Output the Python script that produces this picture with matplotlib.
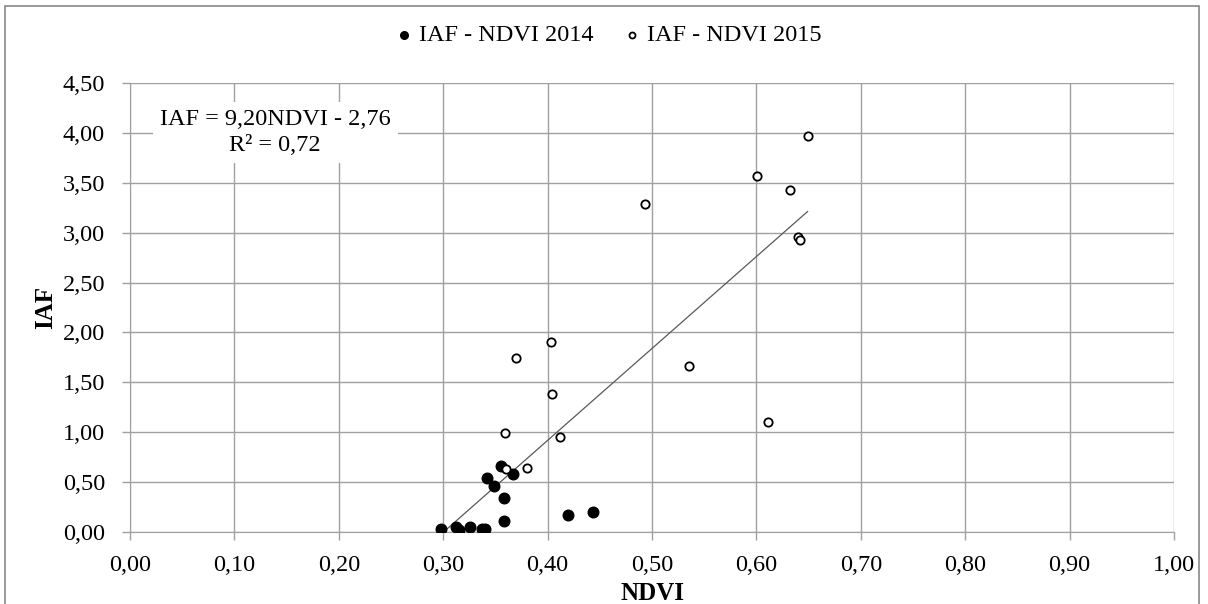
import matplotlib.pyplot as plt
import numpy as np
from matplotlib.patches import Rectangle
from matplotlib.ticker import FuncFormatter

# IAF - NDVI 2014 (filled)
ndvi_2014 = [0.298, 0.312, 0.315, 0.326, 0.337, 0.340, 0.342, 0.349, 0.355, 0.358, 0.358, 0.367, 0.420, 0.443]
iaf_2014 = [0.03, 0.05, 0.02, 0.05, 0.03, 0.03, 0.54, 0.46, 0.66, 0.34, 0.11, 0.58, 0.17, 0.20]

# IAF - NDVI 2015 (open)
ndvi_2015 = [0.359, 0.360, 0.370, 0.380, 0.403, 0.404, 0.412, 0.493, 0.535, 0.601, 0.611, 0.632, 0.640, 0.642, 0.649]
iaf_2015 = [0.99, 0.63, 1.74, 0.64, 1.90, 1.38, 0.95, 3.29, 1.66, 3.57, 1.10, 3.43, 2.96, 2.93, 3.97]

slope, intercept = 9.20, -2.76
r2 = 0.72

plt.rcParams['font.family'] = ['Liberation Serif', 'DejaVu Serif']

fig = plt.figure(figsize=(12.08, 6.04), dpi=100)
ax = fig.add_axes([0.1076, 0.1187, 0.8643, 0.7444])

grid_c = '#a0a0a0'
ax.set_xlim(0, 1)
ax.set_ylim(0, 4.5)
ax.set_xticks(np.arange(0, 1.01, 0.1))
ax.set_yticks(np.arange(0, 4.51, 0.5))
fmt = FuncFormatter(lambda v, p: f"{v:.2f}".replace('.', ','))
ax.xaxis.set_major_formatter(fmt)
ax.yaxis.set_major_formatter(fmt)
ax.grid(True, color=grid_c, linewidth=1)
ax.set_axisbelow(True)
for s in ['top', 'right']:
    ax.spines[s].set_visible(False)
for s in ['left', 'bottom']:
    ax.spines[s].set_color(grid_c)
ax.tick_params(axis='both', color=grid_c, length=6, width=1, labelsize=17.5)
ax.tick_params(axis='x', pad=10)
ax.tick_params(axis='y', pad=12)

# linha de tendência
all_x = np.array(ndvi_2014 + ndvi_2015)
xl = np.linspace(intercept / -slope, all_x.max(), 50)
ax.plot(xl, slope * xl + intercept, color='#595959', linewidth=0.9, zorder=2)

ax.scatter(ndvi_2014, iaf_2014, s=58, color='black', zorder=3, label='IAF - NDVI 2014')
ax.scatter(ndvi_2015, iaf_2015, s=36, facecolor='white', edgecolor='black', linewidth=1.3,
           zorder=3, label='IAF - NDVI 2015')

ax.text(0.139, 4.0, f"IAF = {slope:.2f}NDVI - {-intercept:.2f}\nR² = {r2:.2f}".replace('.', ','),
        ha='center', va='center', fontsize=17.5, linespacing=1.3,
        bbox=dict(facecolor='white', edgecolor='none', pad=5), zorder=4)

ax.set_xlabel('NDVI', fontsize=18, fontweight='bold', labelpad=5)
ax.set_ylabel('IAF', fontsize=18, fontweight='bold', labelpad=4)

leg = fig.legend(loc='center', bbox_to_anchor=(0.505, 0.942), ncol=2, frameon=False,
                 fontsize=17.5, markerscale=0.72, handlelength=0.5, handletextpad=0.35,
                 columnspacing=1.35)

fig.patches.append(Rectangle((5 / 1208, -0.05), 1194 / 1208, 0.05 + 598.5 / 604,
                             transform=fig.transFigure, fill=False, edgecolor='#888888',
                             linewidth=1.2))

fig.savefig('out.png', dpi=100)
